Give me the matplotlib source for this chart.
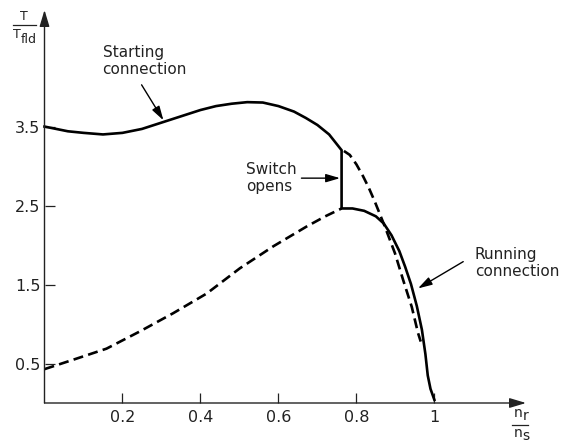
import matplotlib.pyplot as plt
from matplotlib.lines import Line2D

plt.rcParams['font.family'] = ['DejaVu Sans']

# curva con la conexion de arranque (solida) hasta que abre el interruptor
x_arranque = [0, 0.03, 0.06, 0.10, 0.15, 0.20, 0.25, 0.30, 0.35, 0.40, 0.44,
              0.48, 0.52, 0.56, 0.60, 0.64, 0.67, 0.70, 0.73, 0.762]
y_arranque = [3.51, 3.48, 3.45, 3.43, 3.41, 3.43, 3.48, 3.56, 3.64, 3.72, 3.77,
              3.80, 3.82, 3.815, 3.77, 3.70, 3.62, 3.53, 3.41, 3.21]

# salto del interruptor
x_salto = [0.762, 0.762]
y_salto = [3.21, 2.47]

# conexion de marcha (solida) despues del salto
x_marcha = [0.762, 0.79, 0.82, 0.85, 0.87, 0.89, 0.91, 0.925, 0.94, 0.955,
            0.968, 0.977, 0.983, 0.990, 1.0]
y_marcha = [2.47, 2.47, 2.44, 2.37, 2.28, 2.13, 1.93, 1.73, 1.51, 1.23,
            0.93, 0.62, 0.35, 0.18, 0.04]

# conexion de marcha antes del salto (punteada)
x_marcha_p = [0, 0.074, 0.159, 0.245, 0.33, 0.416, 0.501, 0.587, 0.672, 0.72, 0.762]
y_marcha_p = [0.43, 0.55, 0.69, 0.91, 1.14, 1.39, 1.71, 1.99, 2.24, 2.37, 2.47]

# conexion de arranque despues del salto (punteada)
x_arranque_p = [0.768, 0.783, 0.80, 0.817, 0.832, 0.847, 0.860, 0.873, 0.899,
                0.92, 0.942, 0.958, 0.965]
y_arranque_p = [3.20, 3.15, 3.03, 2.88, 2.73, 2.56, 2.40, 2.24, 1.90,
                1.56, 1.22, 0.89, 0.78]

xticks = [0.2, 0.4, 0.6, 0.8, 1]
xtick_labels = ['0.2', '0.4', '0.6', '0.8', '1']
yticks = [0.5, 1.5, 2.5, 3.5]
ytick_labels = ['0.5', '1.5', '2.5', '3.5']

W, H = 565, 444
fig = plt.figure(figsize=(W / 100, H / 100), dpi=100)
ax = fig.add_axes([44.5 / W, 41 / H, (526 - 44.5) / W, 393 / H])
ax.set_xlim(0, 1.235)
ax.set_ylim(0, 4.99)
for s in ax.spines.values():
    s.set_visible(False)

eje = dict(arrowstyle='-|>,head_length=1.0,head_width=0.3', color='#222222',
           lw=1.0, shrinkA=0, shrinkB=0, mutation_scale=10)
ax.annotate('', xy=(1.235, 0), xytext=(0, 0), arrowprops=eje, annotation_clip=False)
ax.annotate('', xy=(0, 4.99), xytext=(0, 0), arrowprops=eje, annotation_clip=False)

ax.set_xticks(xticks, xtick_labels)
ax.set_yticks(yticks, ytick_labels)
ax.tick_params(direction='in', length=7, width=0.9, color='#222222',
               labelsize=11.5, labelcolor='#222222')
ax.tick_params(axis='x', pad=5)
ax.tick_params(axis='y', pad=3)

lw = 1.9
ax.plot(x_arranque + x_salto + x_marcha, y_arranque + y_salto + y_marcha,
        color='black', lw=lw, clip_on=False, solid_joinstyle='miter')
ax.plot(x_marcha_p, y_marcha_p, color='black', lw=lw, dashes=(3.8, 2.0), clip_on=False)
ax.plot(x_arranque_p, y_arranque_p, color='black', lw=lw, dashes=(3.8, 2.0), clip_on=False)

flecha = dict(arrowstyle='-|>,head_length=0.85,head_width=0.25', color='black',
              lw=1.0, shrinkA=0, shrinkB=0, mutation_scale=10)
ax.annotate('', xy=(0.305, 3.59), xytext=(0.249, 4.04), arrowprops=flecha)
ax.annotate('', xy=(0.758, 2.855), xytext=(0.659, 2.855), arrowprops=flecha)
ax.annotate('', xy=(0.958, 1.455), xytext=(1.074, 1.795), arrowprops=flecha,
            annotation_clip=False)

txt = dict(fontsize=11, color='#222222', va='top', ha='left', linespacing=1.2)
ax.text(0.149, 4.55, 'Starting\nconnection', **txt)
ax.text(0.517, 3.06, 'Switch\nopens', **txt)
ax.text(1.104, 1.98, 'Running\nconnection', clip_on=False, **txt)

# etiquetas de los ejes (fracciones)
def px(x, y):
    return x / W, 1 - y / H

lab = dict(fontsize=9, color='#222222', va='baseline')
fig.text(*px(24, 20), 'T', ha='center', **lab)
fig.add_artist(Line2D([12.7 / W, 36 / W], [1 - 25 / H, 1 - 25 / H], color='#222222', lw=0.9))
fig.text(*px(12.7, 38.3), 'T', ha='left', **lab)
fig.text(*px(20.7, 43.0), 'fld', ha='left', **lab)

lab2 = dict(fontsize=10, color='#222222', va='baseline')
fig.text(*px(514, 417.0), 'n', ha='left', **lab2)
fig.text(*px(522.5, 420.2), 'r', ha='left', **lab2)
fig.add_artist(Line2D([511.7 / W, 527.7 / W], [1 - 424.5 / H, 1 - 424.5 / H], color='#222222', lw=0.9))
fig.text(*px(514, 436.5), 'n', ha='left', **lab2)
fig.text(*px(522.5, 439.5), 's', ha='left', **lab2)

fig.savefig('out.png', dpi=100)
